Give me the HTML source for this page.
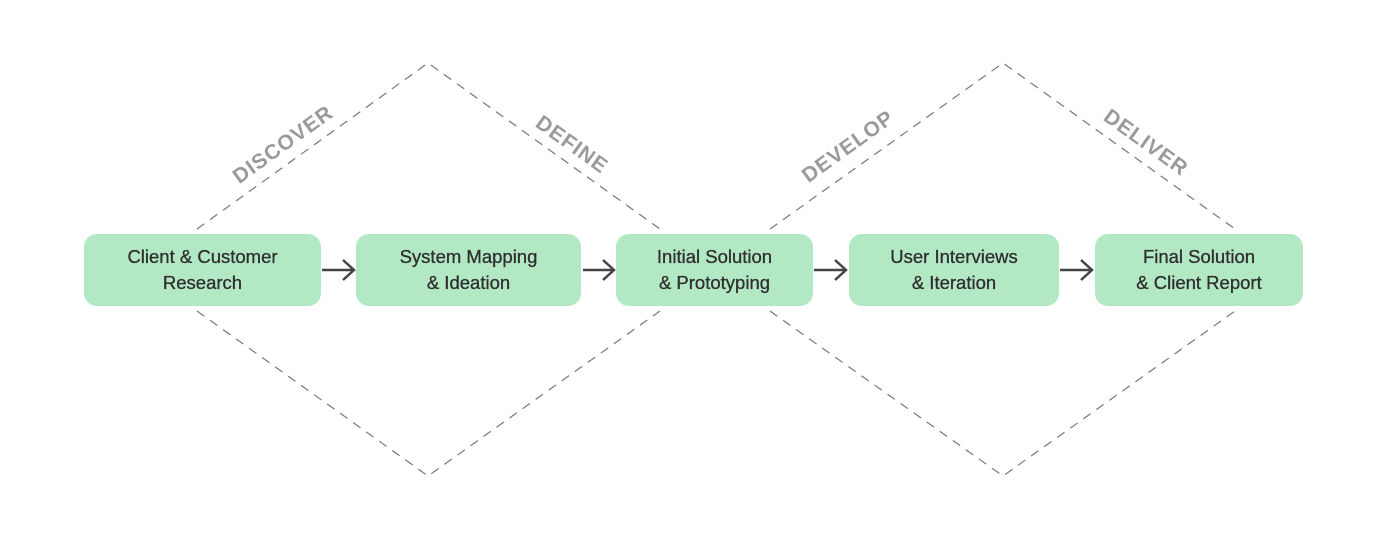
<!DOCTYPE html>
<html><head><style>
body{margin:0;background:#fff;width:1388px;height:545px;overflow:hidden;font-family:"Liberation Sans",sans-serif}
.b{position:absolute;top:234px;height:72px;background:#b3e8c5;border-radius:13px;display:flex;align-items:center;justify-content:center;text-align:center;color:#2e2e2e;font-size:18.5px;line-height:26px;-webkit-text-stroke:0.3px #2e2e2e}
</style></head><body>
<svg width="1388" height="545" style="position:absolute;left:0;top:0">
<g stroke="#777" stroke-width="1.2" stroke-dasharray="9,7" fill="none">
<polyline points="197,229 428,63 660,229"/>
<polyline points="197,311 428,476 660,311"/>
<polyline points="770,229 1003,63 1235,229"/>
<polyline points="770,311 1003,476 1235,311"/>
</g>
<g stroke="#444" stroke-width="2.5" fill="none">
<path d="M322 270H354M343 260L354 270L343 280"/>
<path d="M583 270H614M603 260L614 270L603 280"/>
<path d="M814 270H846M835 260L846 270L835 280"/>
<path d="M1060 270H1092M1081 260L1092 270L1081 280"/>
</g>
<g fill="#9a9a9a" font-family="Liberation Sans" font-weight="bold" font-size="21" letter-spacing="1" text-anchor="middle">
<text transform="translate(287,150) rotate(-35.7)">DISCOVER</text>
<text transform="translate(568,150) rotate(35.7)">DEFINE</text>
<text transform="translate(852,152) rotate(-35.7)">DEVELOP</text>
<text transform="translate(1142,148) rotate(35.7)">DELIVER</text>
</g>
</svg>
<div class="b" style="left:84px;width:237px">Client &amp; Customer<br>Research</div>
<div class="b" style="left:356px;width:225px">System Mapping<br>&amp; Ideation</div>
<div class="b" style="left:616px;width:197px">Initial Solution<br>&amp; Prototyping</div>
<div class="b" style="left:849px;width:210px">User Interviews<br>&amp; Iteration</div>
<div class="b" style="left:1095px;width:208px">Final Solution<br>&amp; Client Report</div>
</body></html>
